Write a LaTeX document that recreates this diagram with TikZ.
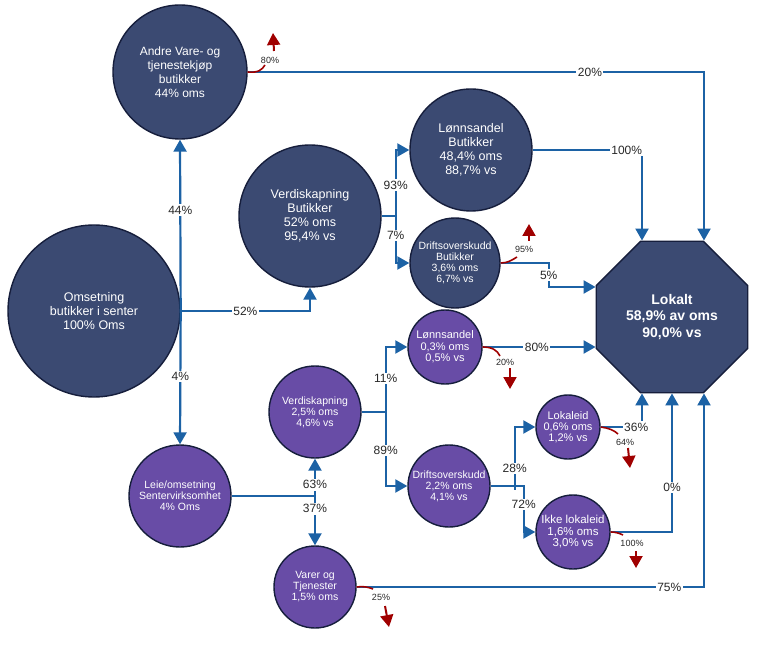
\documentclass[tikz,border=0pt]{standalone}
\usepackage{fontspec}
\setmainfont{Liberation Sans}
\usetikzlibrary{shapes.geometric,arrows.meta,calc}
\definecolor{navyc}{RGB}{59,74,114}
\definecolor{purc}{RGB}{104,76,166}
\definecolor{edgec}{RGB}{22,30,60}
\definecolor{flowc}{RGB}{28,98,165}
\definecolor{redc}{RGB}{160,0,0}
\definecolor{labc}{RGB}{40,40,40}
\newcommand\fsz[2]{\fontsize{#1}{#2}\selectfont}
\begin{document}
\begin{tikzpicture}[x=1pt,y=-1pt,
  bub/.style={circle,draw=edgec,line width=1.4pt,text=white,align=center,inner sep=0pt},
  nv/.style={bub,fill=navyc},
  pu/.style={bub,fill=purc},
  flow/.style={draw=flowc,line width=2.2pt,-{Triangle[width=13pt,length=12pt]}},
  fline/.style={draw=flowc,line width=2.2pt},
  lab/.style={fill=white,inner sep=1.5pt,text=labc,font=\fsz{12}{13}},
  rlab/.style={text=labc,inner sep=0pt,font=\fsz{9}{10}},
  rcurve/.style={draw=redc,line width=1.6pt},
  rarr/.style={draw=redc,line width=2pt,-{Triangle[width=13pt,length=12pt]}},
]
\useasboundingbox (0,0) rectangle (768,652);
\fill[white] (0,0) rectangle (768,652);

% nodes
\node[nv,minimum size=172pt,font=\fsz{12.5}{14}] (oms) at (94,311) {Omsetning\\butikker i senter\\100\% Oms};
\node[nv,minimum size=134pt,font=\fsz{12}{14}] (andre) at (180,72) {Andre Vare- og\\tjenestekjøp\\butikker\\44\% oms};
\node[nv,minimum size=142pt,font=\fsz{12.5}{14}] (verb) at (310,216) {Verdiskapning\\Butikker\\52\% oms\\95,4\% vs};
\node[nv,minimum size=122pt,font=\fsz{12.5}{14}] (lonb) at (471,150) {Lønnsandel\\Butikker\\48,4\% oms\\88,7\% vs};
\node[nv,minimum size=90pt,font=\fsz{10.5}{11}] (drb) at (455,263) {Driftsoverskudd\\Butikker\\3,6\% oms\\6,7\% vs};
\node[regular polygon,regular polygon sides=8,minimum size=164pt,inner sep=0pt,draw=edgec,line width=1.4pt,fill=navyc,text=white,align=center,font=\bfseries\fsz{14}{16.5}] (lok) at (672,317) {Lokalt\\58,9\% av oms\\90,0\% vs};
\node[pu,minimum size=74pt,font=\fsz{11}{11.5}] (lonp) at (445,347) {Lønnsandel\\0,3\% oms\\0,5\% vs};
\node[pu,minimum size=92pt,font=\fsz{10.5}{11}] (verp) at (315,412) {Verdiskapning\\2,5\% oms\\4,6\% vs};
\node[pu,minimum size=82pt,font=\fsz{10.5}{11}] (drp) at (449,486) {Driftsoverskudd\\2,2\% oms\\4,1\% vs};
\node[pu,minimum size=64pt,font=\fsz{11}{11}] (lokeid) at (568,427) {Lokaleid\\0,6\% oms\\1,2\% vs};
\node[pu,minimum size=74pt,font=\fsz{11.5}{11.5}] (ikke) at (573,532) {Ikke lokaleid\\1,6\% oms\\3,0\% vs};
\node[pu,minimum size=102pt,font=\fsz{10.5}{11}] (leie) at (180,496) {Leie/omsetning\\Sentervirksomhet\\4\% Oms};
\node[pu,minimum size=82pt,font=\fsz{10.5}{11}] (var) at (315,587) {Varer og\\Tjenester\\1,5\% oms};

% blue flows
\draw[flow] (oms.east) -- node[lab,pos=0.59]{44\%} (andre.south);
\draw[flow] (oms.east) -- node[lab,pos=0.49]{4\%} (leie.north);
\draw[flow] (oms.east) -| node[lab,pos=0.25]{52\%} (verb.south);
\draw[flow] (andre.east) -| node[lab,pos=0.375]{20\%} ($(lok.north)+(32,0)$);

\coordinate (j1) at ($(verb.east)+(14,0)$);
\draw[fline] (verb.east) -- (j1);
\draw[flow] (j1) |- node[lab,pos=0.235]{93\%} (lonb.west);
\draw[flow] (j1) |- node[lab,pos=0.21]{7\%} (drb.west);
\draw[flow] (lonb.east) -| node[lab,pos=0.43]{100\%} ($(lok.north)+(-30,0)$);
\draw[flow] (drb.east) -- ++(48,0) |- node[lab,pos=0.25]{5\%} ($(lok.west)+(0,-30)$);
\draw[flow] (lonp.east) -- node[lab,pos=0.48]{80\%} (lonp.east -| lok.west);

\coordinate (j2) at ($(verp.east)+(24,0)$);
\draw[fline] (verp.east) -- (j2);
\draw[flow] (j2) |- node[lab,pos=0.26]{11\%} (lonp.west);
\draw[flow] (j2) |- node[lab,pos=0.26]{89\%} (drp.west);

\coordinate (j3) at (verp.south |- leie.east);
\draw[fline] (leie.east) -- (j3);
\draw[flow] (j3) -- node[lab,pos=0.3]{63\%} (verp.south);
\draw[flow] (j3) -- node[lab,pos=0.26]{37\%} (var.north);

\coordinate (j4) at ($(drp.east)+(24,0)$);
\draw[fline] (drp.east) -- (j4);
\draw[fline] (j4) -- ++(0,4);
\draw[flow] (j4) |- node[lab,pos=0.15]{28\%} (lokeid.west);
\draw[flow] (j4) -- ++(9,0) |- node[lab,pos=0.2]{72\%} (ikke.west);

\draw[flow] (lokeid.east) -| node[lab,pos=0.43]{36\%} ($(lok.south)+(-30,0)$);
\draw[flow] (ikke.east) -| node[lab,pos=0.66]{0\%} (lok.south);
\draw[flow] (var.east) -| node[lab,pos=0.45]{75\%} ($(lok.south)+(32,0)$);

% red outflows
\draw[rcurve] (andre.east) .. controls (258,73) and (262,70) .. (265,65);
\node[rlab] (r1) at (270,60) {80\%};
\draw[rarr] (274,51) -- (273,33);

\draw[rcurve] (drb.east) .. controls (508,263) and (512,260) .. (517,257);
\node[rlab] (r2) at (524,249) {95\%};
\draw[rarr] (529,241) -- (529,224);

\draw[rcurve] (lonp.east) .. controls (492,347) and (497,350) .. (500,356);
\node[rlab] (r3) at (505,362) {20\%};
\draw[rarr] (510,368) -- (510,389);

\draw[rcurve] (lokeid.east) .. controls (608,428) and (614,430) .. (618,434);
\node[rlab] (r4) at (625,442) {64\%};
\draw[rarr] (628,448) -- (630,468);

\draw[rcurve] (ikke.east) .. controls (615,532) and (619,533) .. (623,535);
\node[rlab] (r5) at (632,543) {100\%};
\draw[rarr] (636,551) -- (636,568);

\draw[rcurve] (var.east) .. controls (363,586) and (368,587) .. (373,589);
\node[rlab] (r6) at (381,597) {25\%};
\draw[rarr] (385,606) -- (389,627);
\end{tikzpicture}
\end{document}
